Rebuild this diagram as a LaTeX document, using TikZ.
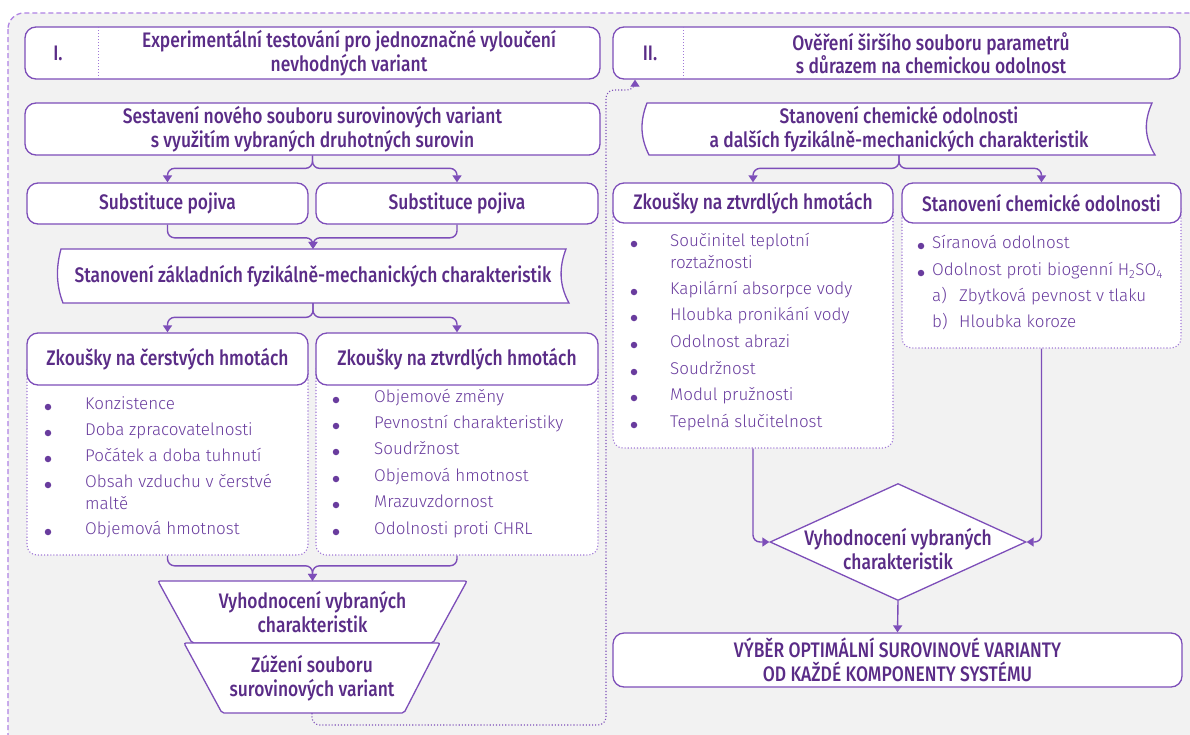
\documentclass[tikz,border=0pt]{standalone}
\usepackage{fontspec}
\setmainfont{Fira Sans Light}
\newfontfamily\hdrfont[FakeStretch=0.83]{Fira Sans Medium}
\usetikzlibrary{arrows.meta,shapes.geometric,calc}

\definecolor{lnc}{RGB}{125,78,185}
\definecolor{hdc}{RGB}{90,44,135}
\definecolor{bdc}{RGB}{105,60,158}
\definecolor{dtc}{RGB}{160,120,215}
\definecolor{frc}{RGB}{175,130,228}
\definecolor{bgc}{RGB}{242,242,242}

\tikzset{
  box/.style={draw=lnc, line width=1.3pt, fill=white, rounded corners=11pt, inner sep=0pt},
  shp/.style={draw=lnc, line width=1.3pt, fill=white},
  panel/.style={draw=dtc, dotted, line width=1.1pt, fill=white, rounded corners=10pt, inner sep=0pt},
  hdiv/.style={draw=dtc, dotted, line width=1pt},
  htxt/.style={font=\hdrfont\fontsize{21}{23.5}\selectfont, text=hdc, align=center, inner sep=0pt},
  btxt/.style={font=\fontsize{17}{20}\selectfont, text=bdc, anchor=mid west, inner sep=0pt},
  bdot/.style={circle, fill=bdc, inner sep=0pt, minimum size=6.5pt},
  ghost/.style={inner sep=0pt},
  conn/.style={draw=lnc, line width=1.4pt, rounded corners=7pt, -{Triangle[width=9pt,length=7pt]}},
  loopconn/.style={draw=lnc, dotted, line width=1.1pt, rounded corners=8pt, -{Triangle[width=9pt,length=7pt]}},
}

\newcommand{\bitem}[5]{\node[bdot] (#1-d) at (#2,#4) {}; \node[btxt] (#1) at (#3,#4) {#5};}
\newcommand{\bline}[4]{\node[btxt] (#1) at (#2,#3) {#4};}

\begin{document}
\begin{tikzpicture}[x=1pt,y=-1pt]
\useasboundingbox (0,0) rectangle (1190,734);
\fill[white] (0,0) rectangle (1190,734);
\begin{scope}
  \clip (0,0) rectangle (1190,734);
  \draw[frc, line width=1.3pt, dash pattern=on 5pt off 3pt, fill=bgc, rounded corners=16pt] (8,13) rectangle (1206,752);
\end{scope}

% ---------- phase I ----------
\node[box, minimum width=575pt, minimum height=52pt] (hI) at (312.5,53) {};
\draw[hdiv] (98,27) -- (98,79);
\node[htxt] (hInum) at (58,53) {I.};
\node[htxt] (hItxt) at (349,53) {Experimentální testování pro jednoznačné vyloučení\\nevhodných variant};

\node[box, minimum width=575pt, minimum height=52pt, htxt] (ses) at (312.5,129)
  {Sestavení nového souboru surovinových variant\\s využitím vybraných druhotných surovin};

\node[box, minimum width=281pt, minimum height=41pt, htxt] (sub1) at (167.5,203.5) {Substituce pojiva};
\node[box, minimum width=282pt, minimum height=41pt, htxt] (sub2) at (457,203.5) {Substituce pojiva};

\draw[shp] (61,249) -- (566,249) .. controls (559,267) and (559,285) .. (569,303)
  -- (63,303) .. controls (56,285) and (56,267) .. (61,249) -- cycle;
\node[ghost, minimum width=505pt, minimum height=54pt, htxt] (stz) at (313,276)
  {Stanovení základních fyzikálně-mechanických charakteristik};

% test panels
\node[panel, minimum width=281pt, minimum height=195pt] (pc) at (167.5,457.5) {};
\node[panel, minimum width=282pt, minimum height=195pt] (pt) at (457,457.5) {};
\node[box, minimum width=281pt, minimum height=52pt, htxt] (zc) at (167.5,359) {Zkoušky na čerstvých hmotách};
\node[box, minimum width=282pt, minimum height=52pt, htxt] (zt) at (457,359) {Zkoušky na ztvrdlých hmotách};

\bitem{c1}{48}{85}{407}{Konzistence}
\bitem{c2}{48}{85}{433}{Doba zpracovatelnosti}
\bitem{c3}{48}{85}{459}{Počátek a doba tuhnutí}
\bitem{c4}{48}{85}{485}{Obsah vzduchu v čerstvé}
\bline{c4b}{85}{507}{maltě}
\bitem{c5}{48}{85}{532}{Objemová hmotnost}

\bitem{t1}{336}{374}{400}{Objemové změny}
\bitem{t2}{336}{374}{426}{Pevnostní charakteristiky}
\bitem{t3}{336}{374}{452}{Soudržnost}
\bitem{t4}{336}{374}{479}{Objemová hmotnost}
\bitem{t5}{336}{374}{505}{Mrazuvzdornost}
\bitem{t6}{336}{374}{532}{Odolnosti proti CHRL}

% evaluation funnel
\draw[shp, rounded corners=2pt] (158,581) -- (467,581) -- (433,643) -- (192,643) -- cycle;
\node[ghost, minimum width=309pt, minimum height=62pt, htxt] (tr1) at (312.5,612)
  {Vyhodnocení vybraných\\charakteristik};
\draw[shp, rounded corners=2pt] (184,643) -- (440,643) -- (404,713) -- (222,713) -- cycle;
\node[ghost, minimum width=256pt, minimum height=70pt, htxt] (tr2) at (312,678)
  {Zúžení souboru\\surovinových variant};

% ---------- phase II ----------
\node[box, minimum width=567pt, minimum height=52pt] (hII) at (896.5,53) {};
\draw[hdiv] (683,27) -- (683,79);
\node[htxt] (hIInum) at (650,53) {II.};
\node[htxt] (hIItxt) at (931,53) {Ověření širšího souboru parametrů\\s důrazem na chemickou odolnost};

\draw[shp] (647,103) -- (1152,103) .. controls (1144,121) and (1144,137) .. (1155,155)
  -- (649,155) .. controls (640,137) and (640,121) .. (647,103) -- cycle;
\node[ghost, minimum width=505pt, minimum height=52pt, htxt] (stc) at (899,129)
  {Stanovení chemické odolnosti\\a dalších fyzikálně-mechanických charakteristik};

\node[panel, minimum width=280pt, minimum height=248pt] (pzr) at (753,324) {};
\node[panel, minimum width=279pt, minimum height=148pt] (psc) at (1041.5,274) {};
\node[box, minimum width=280pt, minimum height=40pt, htxt] (zr) at (753,203) {Zkoušky na ztvrdlých hmotách};
\node[box, minimum width=279pt, minimum height=40pt, htxt] (sc) at (1041.5,203) {Stanovení chemické odolnosti};

\bitem{r1}{634}{670}{244}{Součinitel teplotní}
\bline{r1b}{670}{266}{roztažnosti}
\bitem{r2}{634}{670}{292}{Kapilární absorpce vody}
\bitem{r3}{634}{670}{318}{Hloubka pronikání vody}
\bitem{r4}{634}{670}{345}{Odolnost abrazi}
\bitem{r5}{634}{670}{372}{Soudržnost}
\bitem{r6}{634}{670}{398}{Modul pružnosti}
\bitem{r7}{634}{670}{425}{Tepelná slučitelnost}

\bitem{s1}{921}{932}{246}{Síranová odolnost}
\bitem{s2}{921}{932}{273}{Odolnost proti biogenní H\textsubscript{2}SO\textsubscript{4}}
\bline{s3a}{932}{299}{a)}
\bline{s3}{959}{299}{Zbytková pevnost v tlaku}
\bline{s4a}{932}{325}{b)}
\bline{s4}{959}{325}{Hloubka koroze}

\node[diamond, draw=lnc, line width=1.3pt, fill=white, inner sep=0pt,
  minimum width=256pt, minimum height=117pt] (dia) at (898,542) {};
\node[htxt] (diatxt) at (898,549) {Vyhodnocení vybraných\\charakteristik};

\node[box, minimum width=569pt, minimum height=54pt, htxt] (fin) at (897.5,660)
  {VÝBĚR OPTIMÁLNÍ SUROVINOVÉ VARIANTY\\OD KAŽDÉ KOMPONENTY SYSTÉMU};

% ---------- connectors ----------
\draw[conn] (ses.south) |- ($(sub1.north)+(0,-14)$) -- (sub1.north);
\draw[conn] (ses.south) |- ($(sub2.north)+(0,-14)$) -- (sub2.north);
\draw[conn] (sub1.south) |- ($(stz.north)+(0,-11)$) -- (stz.north);
\draw[conn] (sub2.south) |- ($(stz.north)+(0,-11)$) -- (stz.north);
\draw[conn] (stz.south) |- ($(zc.north)+(0,-15)$) -- (zc.north);
\draw[conn] (stz.south) |- ($(zt.north)+(0,-15)$) -- (zt.north);
\draw[conn] (pc.south) |- ($(tr1.north)+(0,-15)$) -- (tr1.north);
\draw[conn] (pt.south) |- ($(tr1.north)+(0,-15)$) -- (tr1.north);

\draw[conn] (stc.south) |- ($(zr.north)+(0,-14)$) -- (zr.north);
\draw[conn] (stc.south) |- ($(sc.north)+(0,-14)$) -- (sc.north);
\draw[conn] (pzr.south) |- (dia.west);
\draw[conn] (psc.south) |- (dia.east);
\draw[conn] (dia.south) -- (fin.north);

\coordinate (loopA) at (606,725);
\coordinate (loopB) at (635,90);
\draw[loopconn] (tr2.south) |- (loopA) |- (loopB) -- (loopB |- hII.south);
\end{tikzpicture}
\end{document}
